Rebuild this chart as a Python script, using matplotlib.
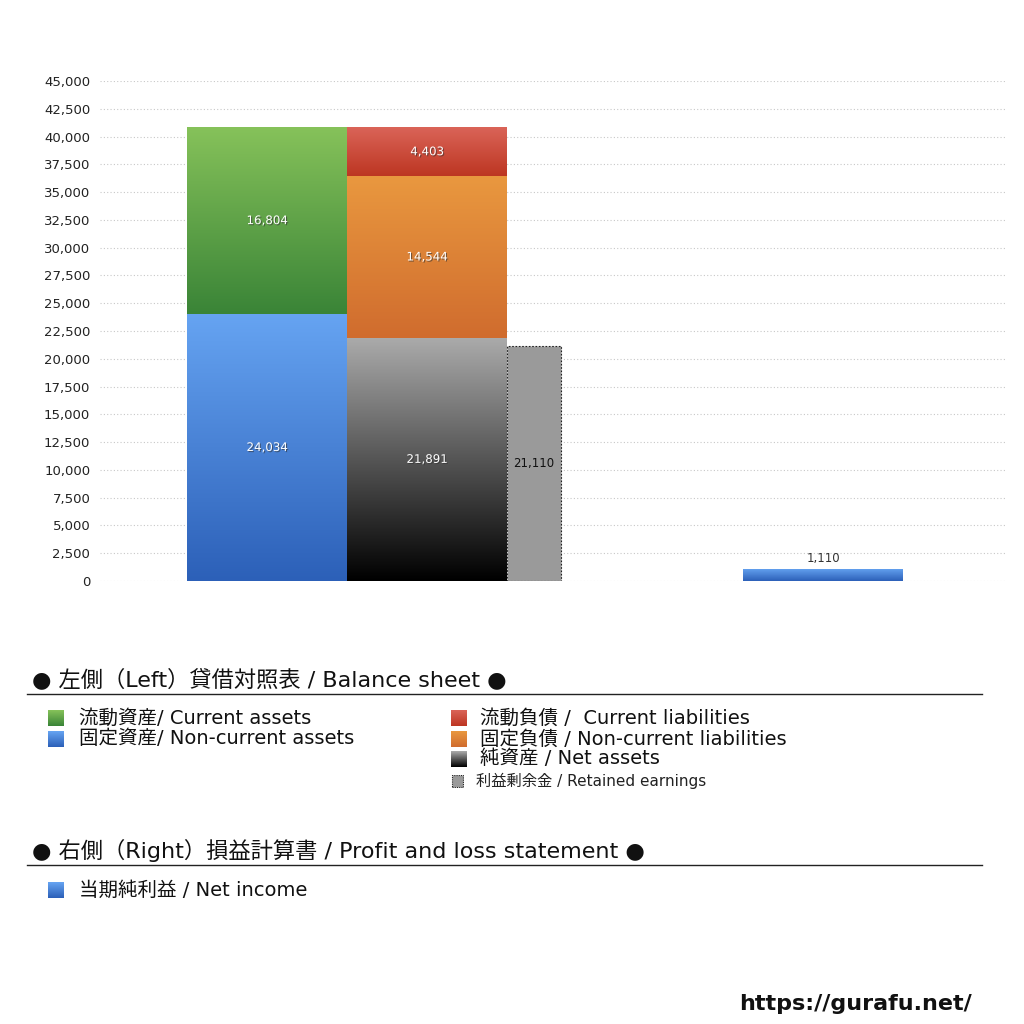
import numpy as np
import matplotlib
matplotlib.use("Agg")
import matplotlib.pyplot as plt
from matplotlib.colors import LinearSegmentedColormap
from matplotlib.ticker import FuncFormatter, MultipleLocator
import matplotlib.patheffects as pe

plt.rcParams['font.family'] = ['DejaVu Sans', 'Noto Sans CJK JP']

# ---- data ----
current_assets = 16804
noncurrent_assets = 24034
current_liabilities = 4403
noncurrent_liabilities = 14544
net_assets = 21891
retained_earnings = 21110
net_income = 1110

# gradients (top, bottom)
grad_green = ("#86c25a", "#3a8437")
grad_blue = ("#66a4f2", "#2c60b8")
grad_red = ("#da6458", "#bd3622")
grad_orange = ("#e9983f", "#d06c2e")
grad_black = ("#ababab", "#000000")

W, H = 1024, 1024
fig = plt.figure(figsize=(W / 100, H / 100), dpi=100)
ax = fig.add_axes([100 / W, 1 - 581 / H, 907 / W, 500 / H])

ax.set_ylim(0, 45000)
ax.set_xlim(-0.544, 5.125)
ax.yaxis.set_major_locator(MultipleLocator(2500))
ax.yaxis.set_major_formatter(FuncFormatter(lambda v, p: f"{int(v):,}"))
ax.grid(axis='y', color='#c8c8c8', linestyle=(0, (1, 2)), linewidth=0.8)
ax.set_axisbelow(True)
for s in ax.spines.values():
    s.set_visible(False)
ax.tick_params(axis='y', length=0, labelsize=9.5, colors='#222222', pad=7)
ax.tick_params(axis='x', length=0, labelbottom=False)


def grad_bar(x, width, bottom, height, colors):
    bars = ax.bar(x, height, width=width, bottom=bottom, align='edge',
                  facecolor='none', edgecolor='none', zorder=3)
    patch = bars[0]
    cmap = LinearSegmentedColormap.from_list('g', [colors[1], colors[0]])
    grad = np.linspace(0, 1, 256).reshape(-1, 1)
    im = ax.imshow(grad, cmap=cmap, aspect='auto', origin='lower',
                   extent=[x, x + width, bottom, bottom + height], zorder=2)
    im.set_clip_path(patch)
    return patch


shadow = [pe.withSimplePatchShadow(offset=(0.8, -0.8), shadow_rgbFace='#333333', alpha=0.6)]


def label(x, y, txt, color='white', eff=True):
    ax.text(x, y, txt, ha='center', va='center', fontsize=8.5, color=color,
            zorder=5, path_effects=shadow if eff else None)


# assets
grad_bar(0, 1, 0, noncurrent_assets, grad_blue)
grad_bar(0, 1, noncurrent_assets, current_assets, grad_green)
label(0.5, noncurrent_assets / 2, f"{noncurrent_assets:,}")
label(0.5, noncurrent_assets + current_assets / 2, f"{current_assets:,}")

# liabilities + net assets
grad_bar(1, 1, 0, net_assets, grad_black)
grad_bar(1, 1, net_assets, noncurrent_liabilities, grad_orange)
grad_bar(1, 1, net_assets + noncurrent_liabilities, current_liabilities, grad_red)
label(1.5, net_assets / 2, f"{net_assets:,}")
label(1.5, net_assets + noncurrent_liabilities / 2, f"{noncurrent_liabilities:,}")
label(1.5, net_assets + noncurrent_liabilities + current_liabilities / 2, f"{current_liabilities:,}")

# retained earnings
ax.bar(2, retained_earnings, width=0.3375, align='edge', facecolor='#9a9a9a',
       edgecolor='#222222', linestyle=(0, (1.5, 1.5)), linewidth=0.8, zorder=3)
label(2 + 0.3375 / 2, retained_earnings / 2, f"{retained_earnings:,}", color='#111111', eff=False)

# net income
grad_bar(3.475, 1, 0, net_income, grad_blue)
ax.text(3.975, net_income + 300, f"{net_income:,}", ha='center', va='bottom',
        fontsize=8.5, color='#333333', zorder=5)


# ---- legend area ----
def ypos(py):
    return 1 - py / H


def xpos(px):
    return px / W


def square(px, py, colors, size=16, dotted=False):
    a = fig.add_axes([xpos(px), ypos(py + size / 2), size / W, size / H])
    a.set_axis_off()
    if dotted:
        a.add_patch(plt.Rectangle((0.05, 0.05), 0.9, 0.9, facecolor='#9a9a9a',
                                  edgecolor='#222222', linestyle=(0, (1, 1)), lw=0.8))
        a.set_xlim(0, 1)
        a.set_ylim(0, 1)
    else:
        cmap = LinearSegmentedColormap.from_list('g', [colors[1], colors[0]])
        a.imshow(np.linspace(0, 1, 64).reshape(-1, 1), cmap=cmap, aspect='auto',
                 origin='lower', extent=[0, 1, 0, 1])


fig.text(xpos(32), ypos(679), "● 左側（Left）貸借対照表 / Balance sheet ●",
         fontsize=16, va='center', ha='left', color='#111111')
fig.add_artist(plt.Line2D([xpos(27), xpos(982)], [ypos(694), ypos(694)],
                          color='#222222', lw=1))

items_left = [("流動資産/ Current assets", grad_green, 718),
              ("固定資産/ Non-current assets", grad_blue, 739)]
for txt, col, py in items_left:
    square(48, py, col)
    fig.text(xpos(79), ypos(py), txt, fontsize=14, va='center', ha='left', color='#111111')

items_right = [("流動負債 /  Current liabilities", grad_red, 718),
               ("固定負債 / Non-current liabilities", grad_orange, 739),
               ("純資産 / Net assets", grad_black, 759)]
for txt, col, py in items_right:
    square(451, py, col)
    fig.text(xpos(480), ypos(py), txt, fontsize=14, va='center', ha='left', color='#111111')

square(451, 781, None, size=13, dotted=True)
fig.text(xpos(476), ypos(781), "利益剰余金 / Retained earnings", fontsize=11,
         va='center', ha='left', color='#222222')

fig.text(xpos(32), ypos(850), "● 右側（Right）損益計算書 / Profit and loss statement ●",
         fontsize=16, va='center', ha='left', color='#111111')
fig.add_artist(plt.Line2D([xpos(27), xpos(982)], [ypos(865), ypos(865)],
                          color='#222222', lw=1))
square(48, 890, grad_blue)
fig.text(xpos(79), ypos(890), "当期純利益 / Net income", fontsize=14,
         va='center', ha='left', color='#111111')

fig.text(xpos(972), ypos(1004), "https://gurafu.net/", fontsize=16, fontweight='bold',
         va='center', ha='right', color='#111111')

fig.savefig("out.png", dpi=100, facecolor='white')
